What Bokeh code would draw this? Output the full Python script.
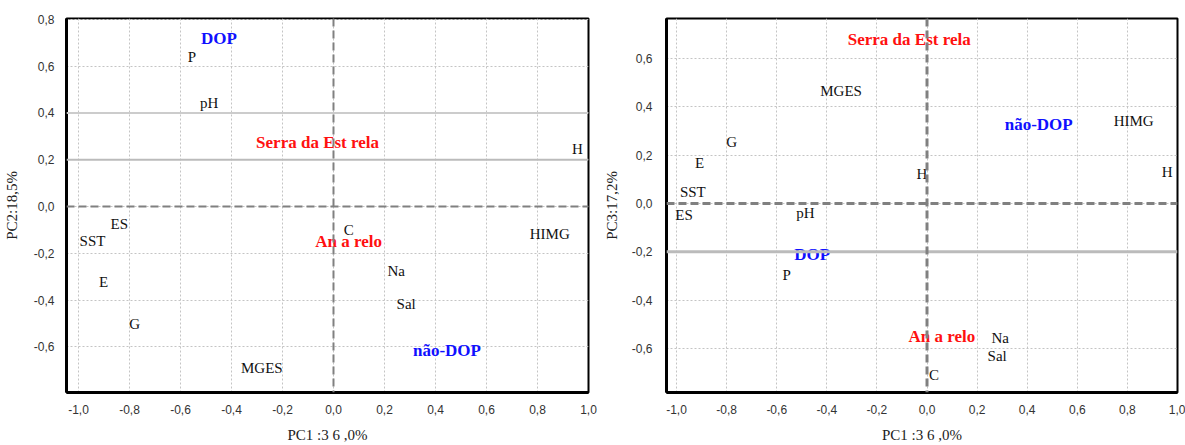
from bokeh.plotting import figure
from bokeh.layouts import row
from bokeh.models import FixedTicker, CustomJSTickFormatter, Span, ColumnDataSource
from bokeh.core.properties import value
from bokeh.embed import file_html
from bokeh.resources import INLINE

# ---------------- data ----------------
x_ticks = [-1.0, -0.8, -0.6, -0.4, -0.2, 0.0, 0.2, 0.4, 0.6, 0.8, 1.0]
left_y_ticks = [-0.6, -0.4, -0.2, 0.0, 0.2, 0.4, 0.6, 0.8]
right_y_ticks = [-0.6, -0.4, -0.2, 0.0, 0.2, 0.4, 0.6]

x_label = "PC1 :3 6 ,0%"
left_y_label = "PC2:18,5%"
right_y_label = "PC3:17,2%"

# left panel: PC1 vs PC2 (variables)
left_vars = ["P", "pH", "H", "ES", "SST", "E", "G", "MGES", "C", "Na", "Sal", "HIMG"]
left_pc1 = [-0.555, -0.488, 0.957, -0.84, -0.945, -0.902, -0.78, -0.281, 0.06, 0.246, 0.285, 0.848]
left_pc2 = [0.64, 0.441, 0.247, -0.073, -0.149, -0.322, -0.504, -0.690, -0.099, -0.276, -0.415, -0.116]

# left panel: groups
left_groups = ["DOP", "Serra da Est rela", "An a relo", "não-DOP"]
left_group_pc1 = [-0.449, -0.0625, 0.059, 0.445]
left_group_pc2 = [0.72, 0.273, -0.149, -0.614]
left_group_colors = ["#1010ff", "#ff1010", "#ff1010", "#1010ff"]

# right panel: PC1 vs PC3 (variables)
right_vars = ["MGES", "G", "E", "SST", "ES", "pH", "P", "H", "HIMG", "H", "Na", "Sal", "C"]
right_pc1 = [-0.343, -0.78, -0.908, -0.935, -0.97, -0.485, -0.56, -0.02, 0.825, 0.959, 0.292, 0.28, 0.028]
right_pc3 = [0.463, 0.255, 0.166, 0.048, -0.049, -0.041, -0.297, 0.121, 0.341, 0.129, -0.557, -0.631, -0.708]

# right panel: groups
right_groups = ["Serra da Est rela", "DOP", "não-DOP", "An a relo"]
right_group_pc1 = [-0.071, -0.458, 0.446, 0.059]
right_group_pc3 = [0.678, -0.21, 0.325, -0.549]
right_group_colors = ["#ff1010", "#1010ff", "#1010ff", "#ff1010"]

# ---------------- helpers ----------------
FMT = CustomJSTickFormatter(code="""
var v = Math.abs(tick) < 1e-9 ? 0 : tick;
return v.toFixed(1).replace('.', ',');
""")

SERIF = value("Liberation Serif")


def make_panel(width, height, border_left, border_right, border_top, border_bottom,
               xr, yr, yticks, ylabel, ytick_standoff, ylabel_standoff):
    p = figure(width=width, height=height, x_range=xr, y_range=yr,
               output_backend="svg", toolbar_location=None,
               min_border_left=border_left, min_border_right=border_right,
               min_border_top=border_top, min_border_bottom=border_bottom)
    p.outline_line_color = "black"
    p.outline_line_width = 2
    p.background_fill_color = "white"

    for ax in (p.xaxis[0], p.yaxis[0]):
        ax.formatter = FMT
        ax.axis_line_color = "black"
        ax.axis_line_width = 3
        ax.major_tick_line_color = None
        ax.minor_tick_line_color = None
        ax.major_label_text_font = "Liberation Sans"
        ax.major_label_text_font_size = "12px"
        ax.major_label_text_color = "#333333"
        ax.axis_label_text_font_style = "normal"
        ax.axis_label_text_color = "#222222"
        ax.axis_label_text_font = "Liberation Serif"
        ax.axis_label_text_font_size = "15px"
    p.xaxis[0].ticker = FixedTicker(ticks=x_ticks)
    p.yaxis[0].ticker = FixedTicker(ticks=yticks)
    p.xaxis[0].major_label_standoff = 6
    p.yaxis[0].major_label_standoff = ytick_standoff

    p.xaxis[0].axis_label = x_label
    p.xaxis[0].axis_label_standoff = 10
    p.yaxis[0].axis_label = ylabel
    p.yaxis[0].axis_label_standoff = ylabel_standoff

    for g in (p.xgrid[0], p.ygrid[0]):
        g.grid_line_color = "#c4c4c4"
        g.grid_line_dash = "2 2"
        g.grid_line_width = 1
    return p


def add_zero_lines(p, width):
    p.add_layout(Span(location=0, dimension="width", line_color="#808080",
                      line_width=width, line_dash="8 4"))
    p.add_layout(Span(location=0, dimension="height", line_color="#808080",
                      line_width=width, line_dash="8 4"))


def add_labels(p, xs, ys, names, colors=None, bold=False):
    data = dict(x=xs, y=ys, t=names)
    if colors is not None:
        data["c"] = colors
    src = ColumnDataSource(data)
    p.text(x="x", y="y", text="t", source=src,
           text_font=SERIF, text_font_size="17px" if bold else "15px",
           text_font_style="bold" if bold else "normal",
           text_color="c" if colors is not None else "#111111",
           text_align="center", text_baseline="middle")


# ---------------- left panel ----------------
p1 = make_panel(600, 445, 63, 12, 18, 48,
                (-1.047, 1.0), (-0.795, 0.804), left_y_ticks, left_y_label, 6, 11)
p1.add_layout(Span(location=0.4, dimension="width", line_color="#cccccc", line_width=2))
p1.add_layout(Span(location=0.2, dimension="width", line_color="#bbbbbb", line_width=2))
add_zero_lines(p1, 2)
add_labels(p1, left_pc1, left_pc2, left_vars)
add_labels(p1, left_group_pc1, left_group_pc2, left_groups, left_group_colors, bold=True)

# ---------------- right panel ----------------
p2 = make_panel(585, 445, 60, 8, 17, 48,
                (-1.04, 1.0), (-0.781, 0.764), right_y_ticks, right_y_label, 8, 9)
p2.add_layout(Span(location=-0.2, dimension="width", line_color="#bbbbbb", line_width=3))
add_zero_lines(p2, 3)
add_labels(p2, right_pc1, right_pc3, right_vars)
add_labels(p2, right_group_pc1, right_group_pc3, right_groups, right_group_colors, bold=True)

layout = row(p1, p2)
open("out.html", "w").write(file_html(layout, INLINE))
